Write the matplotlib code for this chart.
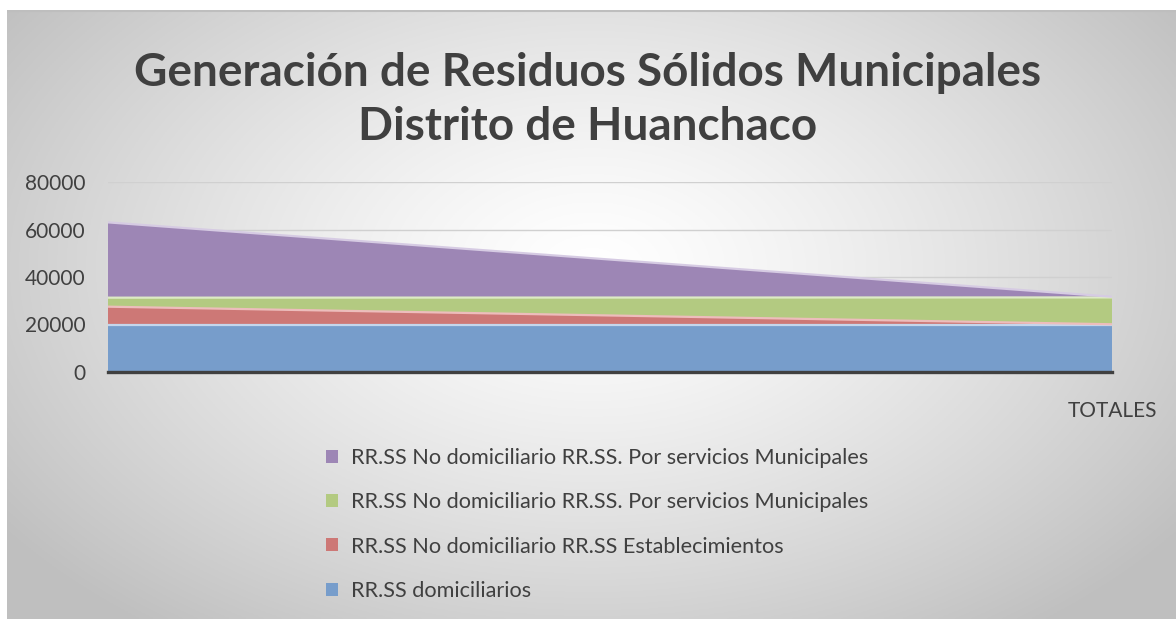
import numpy as np
import matplotlib
matplotlib.use("Agg")
import matplotlib.pyplot as plt
from matplotlib.patches import Patch

# ---- data ----
categories = ["", "TOTALES"]
series_labels = [
    "RR.SS domiciliarios",
    "RR.SS No domiciliario RR.SS Establecimientos",
    "RR.SS No domiciliario RR.SS. Por servicios Municipales",
    "RR.SS No domiciliario RR.SS. Por servicios Municipales",
]
domiciliarios = [19800, 19800]
establecimientos = [7700, 300]
servicios_mun_a = [3800, 11300]
servicios_mun_b = [31700, 300]
yticks = [0, 20000, 40000, 60000, 80000]

colors = ["#779DCB", "#CD7876", "#B3CA81", "#9D86B5"]
edge_colors = ["#C4D6EC", "#EDBDBC", "#DDEBC5", "#D6CBE3"]

plt.rcParams['font.family'] = ['Lato', 'DejaVu Sans']

fig = plt.figure(figsize=(11.76, 6.19), dpi=100)
fig.patch.set_facecolor("white")

# background gradient (chart area)
bg = fig.add_axes([7/1176, 0, 1 - 7/1176, 1 - 10/619], zorder=-10)
h, w = 300, 600
yy, xx = np.mgrid[0:h, 0:w]
cx, cy = w * 0.5, h * 0.42
d = np.sqrt(((xx - cx) / (w * 0.62)) ** 2 + ((yy - cy) / (h * 0.75)) ** 2)
d = np.clip(d, 0, 1)
val = 1.0 - 0.25 * d ** 1.3
img = np.dstack([val, val, val])
bg.imshow(img, aspect="auto", extent=[0, 1, 0, 1], origin="upper")
bg.plot([0, 1], [0.998, 0.998], color="#BEBEBE", lw=1.5, transform=bg.transAxes)
bg.set_axis_off()

ax = fig.add_axes([108/1176, 1 - 372/619, (1112 - 108)/1176, (372 - 182)/619])
ax.set_facecolor("none")
x = np.arange(len(categories))
data = [domiciliarios, establecimientos, servicios_mun_a, servicios_mun_b]
stacks = ax.stackplot(x, *data, colors=colors, zorder=2, linewidth=0)
cum = np.cumsum(np.array(data, dtype=float), axis=0)
for i in range(len(data)):
    ax.plot(x, cum[i], color=edge_colors[i], lw=1.6, zorder=3)

ax.set_xlim(0, 1)
ax.set_ylim(0, 80000)
ax.set_yticks(yticks)
ax.set_yticklabels([str(v) for v in yticks])
ax.set_xticks(x)
ax.set_xticklabels(categories)
ax.grid(axis="y", color="#D0D0D0", lw=1, zorder=1)
ax.set_axisbelow(True)
for s in ["top", "right", "left"]:
    ax.spines[s].set_visible(False)
ax.spines["bottom"].set_color("#404040")
ax.spines["bottom"].set_linewidth(2.4)
ax.spines["bottom"].set_zorder(4)
ax.tick_params(axis="both", length=0, labelsize=15, colors="#404040")
ax.tick_params(axis="y", pad=16)
ax.tick_params(axis="x", pad=21)

fig.text(0.5, 1 - 73/619, "Generación de Residuos Sólidos Municipales",
         ha="center", va="center", fontsize=33, fontweight="bold", color="#404040")
fig.text(0.5, 1 - 127/619, "Distrito de Huanchaco",
         ha="center", va="center", fontsize=33, fontweight="bold", color="#404040")

handles = [Patch(facecolor=colors[i], edgecolor="none") for i in range(4)][::-1]
labels = series_labels[::-1]
leg = fig.legend(handles, labels, loc="upper left",
                 bbox_to_anchor=(326/1176, 1 - 448/619), frameon=False,
                 fontsize=15.6, labelcolor="#404040", handlelength=0.55,
                 handleheight=0.55, handletextpad=0.6, labelspacing=1.12,
                 borderpad=0, borderaxespad=0)

fig.savefig("out.png", dpi=100)
